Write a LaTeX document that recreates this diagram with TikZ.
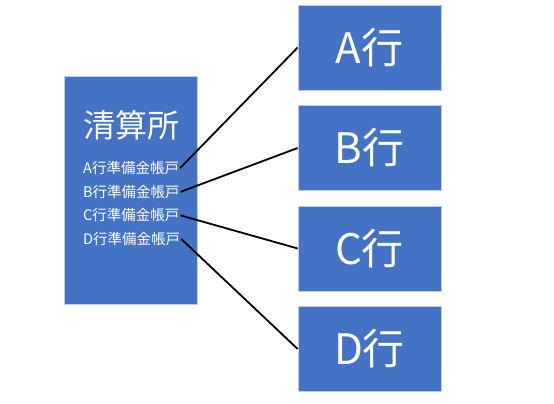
\documentclass[tikz,border=0pt]{standalone}
\usepackage{fontspec}
\usepackage{tikz}
\newfontfamily\cjk{Noto Sans CJK JP}
\definecolor{boxblue}{HTML}{4472C4}
\usetikzlibrary{calc}

\begin{document}
\begin{tikzpicture}[x=1pt, y=-1pt, every node/.style={text=white, font=\cjk}]
            \useasboundingbox (0,0) rectangle (554,404);
            \tikzset{
                bankbox/.style={fill=boxblue, draw=boxblue!35!white, line width=0.6pt, minimum width=143pt, minimum height=85pt, font=\cjk\fontsize{42}{42}\selectfont},
                acct/.style={anchor=west, inner sep=1pt, font=\cjk\fontsize{14.5}{15}\selectfont}
            }
            %%%%%%%%%%%%%%% Clearing house box
            \node[fill=boxblue, draw=boxblue!35!white, line width=0.6pt, minimum width=133pt, minimum height=228pt] (house) at (130.5,190) {};
            \node[font=\cjk\fontsize{32}{32}\selectfont] (title) at (131,125) {清算所};
            %%%%%%%%%%%%%%% Banks, reserve accounts and links
            \foreach \b [count=\i from 0] in {A,B,C,D} {
                \node[bankbox] (bank\b) at (369.5,47.5+100.5*\i) {\b{}行};
                \node[acct] (acct\b) at (82,168+23.7*\i) {\b{}行準備金帳戸};
                \draw[line width=1.8pt] (acct\b.east) -- (bank\b.west);
            }
        \end{tikzpicture}
\end{document}
